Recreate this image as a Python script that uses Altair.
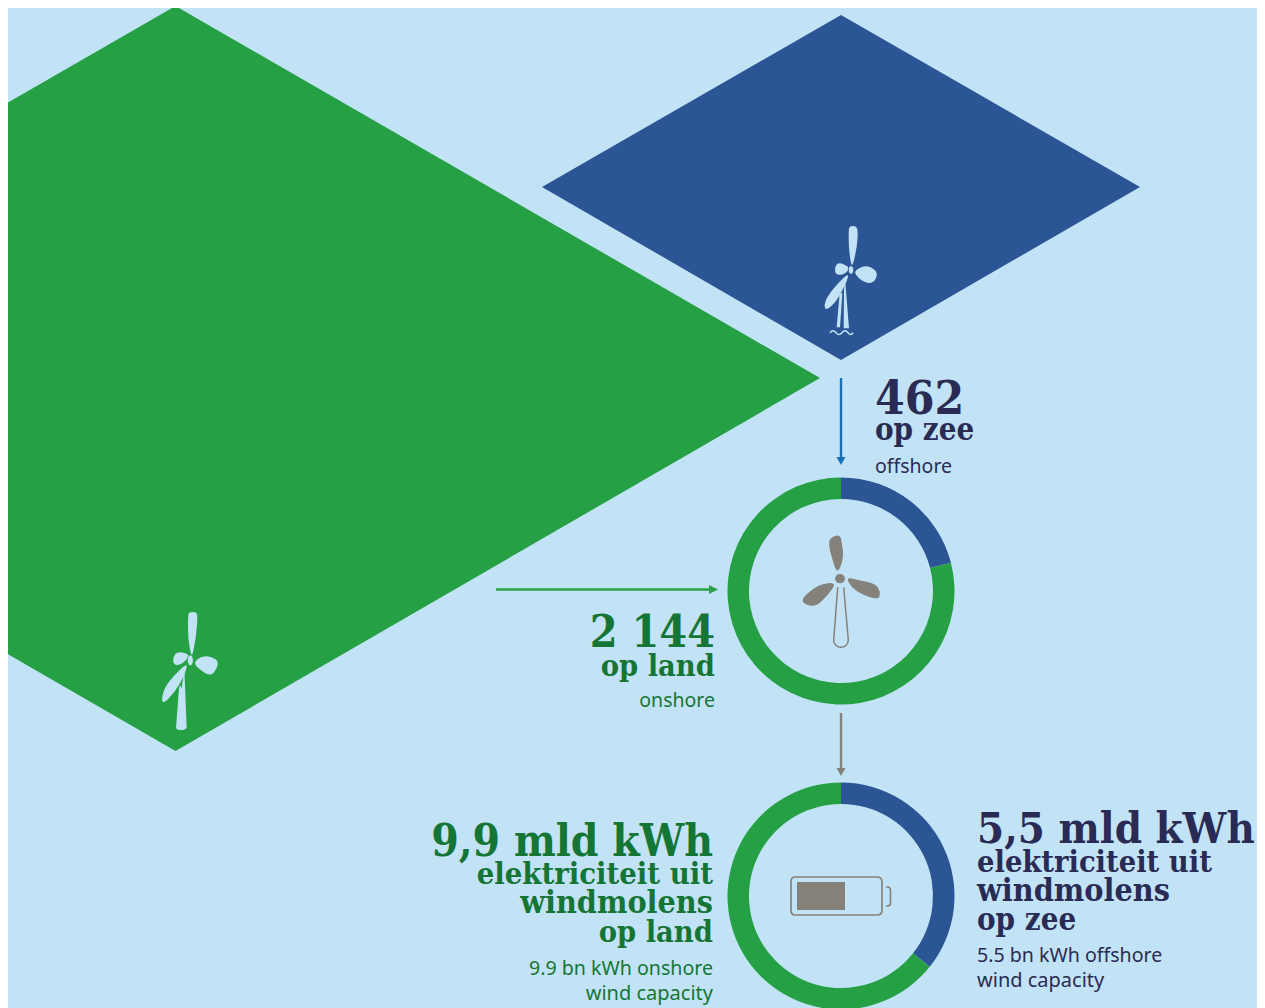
import altair as alt
import pandas as pd

# ---- values
DONUT_TOP = [21, 79]        # offshore / onshore share as drawn
DONUT_BOTTOM = [5.5, 9.9]   # bn kWh offshore / onshore

LABEL_OFF = ["462", "op zee", "offshore"]
LABEL_ON = ["2 144", "op land", "onshore"]
LABEL_KWH_ON = ["9,9 mld kWh", "elektriciteit uit", "windmolens", "op land", "9.9 bn kWh onshore", "wind capacity"]
LABEL_KWH_OFF = ["5,5 mld kWh", "elektriciteit uit", "windmolens", "op zee", "5.5 bn kWh offshore", "wind capacity"]

# ---- palette
BG = "#c2e3f6"
GREEN = "#25a044"
BLUE = "#2b5594"
NAVY = "#2a2b55"
DGREEN = "#157534"
GREY = "#85827b"
ARROW_BLUE = "#1a6fb0"
ARROW_GREEN = "#2ba14a"
HEAD = "DejaVu Serif Condensed"
BODY = "Noto Sans"

X = lambda f="x": alt.X(f"{f}:Q", scale=alt.Scale(domain=[8, 1257], nice=False, zero=False), axis=None)
Y = lambda f="y": alt.Y(f"{f}:Q", scale=alt.Scale(domain=[1008, 8], nice=False, zero=False), axis=None)


def smooth(pts, k=3):
    p = [(a / k, b / k) for a, b in pts]
    n = len(p)
    mid = lambda a, b: ((a[0] + b[0]) / 2, (a[1] + b[1]) / 2)
    s = mid(p[-1], p[0])
    out = f"M{s[0]:.2f},{s[1]:.2f}"
    for i in range(n):
        m = mid(p[i], p[(i + 1) % n])
        out += f"Q{p[i][0]:.2f},{p[i][1]:.2f},{m[0]:.2f},{m[1]:.2f}"
    return out + "Z"


def straight(pts, k=3, close=True):
    p = [(a / k, b / k) for a, b in pts]
    return "M" + "L".join(f"{a:.2f},{b:.2f}" for a, b in p) + ("Z" if close else "")


def ellipse(cx, cy, rx, ry, k=3):
    cx, cy, rx, ry = cx / k, cy / k, rx / k, ry / k
    return (f"M{cx:.2f},{cy - ry:.2f}A{rx:.2f},{ry:.2f},0,1,1,{cx:.2f},{cy + ry:.2f}"
            f"A{rx:.2f},{ry:.2f},0,1,1,{cx:.2f},{cy - ry:.2f}Z")


def icon(path, ox, oy, color, filled=True, sw=0, stroke=None):
    d = pd.DataFrame({"x": [ox], "y": [oy]})
    if filled:
        kw = {"stroke": stroke} if stroke else {}
        m = alt.Chart(d).mark_point(shape=path, size=4, filled=True, fill=color, opacity=1, strokeWidth=sw, **kw)
    else:
        m = alt.Chart(d).mark_point(shape=path, size=4, filled=False, color=color, opacity=1, strokeWidth=sw)
    return m.encode(x=X(), y=Y())


def diamond(xl, xc, xr, ym, top, bottom, color):
    d = pd.DataFrame({"x": [xl, xc, xr], "y": [ym, top, ym], "y2": [ym, bottom, ym]})
    return alt.Chart(d).mark_area(color=color, opacity=1, clip=True, interpolate="linear").encode(
        x=X(), y=Y(), y2=alt.Y2("y2:Q"))


def donut(vals, cx, cy):
    total = sum(vals)
    f = vals[0] / total
    d = pd.DataFrame({"x": [cx, cx], "y": [cy, cy], "a": [0, f], "b": [f, 1],
                      "c": [BLUE, GREEN]})
    return alt.Chart(d).mark_arc(radius=113.5, radius2=92).encode(
        x=X(), y=Y(),
        theta=alt.Theta("a:Q", scale=alt.Scale(domain=[0, 1], range=[0, 6.283185]), stack=None),
        theta2=alt.Theta2("b:Q"),
        color=alt.Color("c:N", scale=None))


def arrow(x1, y1, x2, y2, color):
    d = pd.DataFrame({"x": [x1], "y": [y1], "x2": [x2], "y2": [y2]})
    return alt.Chart(d).mark_rule(color=color, strokeWidth=2.4).encode(
        x=X(), y=Y(), x2="x2:Q", y2="y2:Q")


def texts(labels, xs, baselines, sizes, color, align, fonts, weights):
    out = []
    for t, x, y, s, f, w in zip(labels, xs, baselines, sizes, fonts, weights):
        d = pd.DataFrame({"x": [x], "y": [y], "t": [t]})
        out.append(alt.Chart(d).mark_text(align=align, baseline="alphabetic", fontSize=s, font=f,
                                          fontWeight=w, color=color).encode(x=X(), y=Y(), text="t:N"))
    return out


layers = [
    diamond(-470, 175.5, 820, 378, 6, 751, GREEN),
    diamond(542, 841, 1140, 187, 15, 360, BLUE),
]

# offshore turbine
o = (780, 210)
for pts in [
    [(213, 165), (206, 110), (206, 60), (209, 48), (228, 48), (234, 62), (231, 110), (219, 165)],
    [(220, 184), (250, 168), (272, 170), (294, 188), (284, 216), (262, 221), (238, 207)],
    [(207, 170), (174, 156), (163, 175), (168, 194), (187, 195), (205, 183)],
    [(204, 191), (175, 218), (143, 258), (132, 285), (138, 302), (167, 277), (187, 242), (204, 205)],
]:
    layers.append(icon(smooth(pts), *o, BG))
layers.append(icon(straight([(195, 205), (207, 355), (191, 355), (192, 240)]), *o, BG))
layers.append(icon(straight([(179, 250), (187, 250), (180, 352), (170, 352)]), *o, BG))
layers.append(icon(ellipse(213, 180, 8, 13), *o, BG, True, 0.8, BLUE))
layers.append(icon("M50,122.7Q53,119,56,122.7T62,122.7T68,122.7T73,122.7", *o, BG, False, 1.5))

# onshore turbine
o = (130, 600)
for pts in [
    [(183, 165), (174, 115), (174, 48), (177, 36), (199, 36), (203, 50), (198, 110), (188, 165)],
    [(190, 188), (215, 168), (245, 170), (268, 186), (252, 220), (235, 226), (208, 208)],
    [(178, 163), (143, 154), (128, 172), (131, 194), (150, 196), (172, 178)],
    [(170, 191), (135, 223), (103, 263), (94, 303), (104, 309), (137, 272), (160, 232), (170, 205)],
]:
    layers.append(icon(smooth(pts), *o, BG))
layers.append(icon(straight([(163, 205), (170, 385), (160, 390), (145, 390), (138, 385), (147, 265),
                             (150, 255), (155, 265)]), *o, BG))
layers.append(icon(ellipse(181, 181, 9, 16), *o, BG, True, 0.8, GREEN))

layers += [donut(DONUT_TOP, 841, 591), donut(DONUT_BOTTOM, 841, 896)]

# grey turbine
o = (720, 470)
for pts in [
    [(352, 314), (335, 262), (326, 225), (330, 203), (360, 193), (366, 220), (371, 265)],
    [(378, 321), (420, 331), (466, 341), (482, 365), (476, 390), (425, 374), (393, 351)],
    [(350, 338), (310, 340), (278, 356), (242, 390), (260, 406), (289, 409), (322, 377)],
]:
    layers.append(icon(smooth(pts), *o, GREY))
layers.append(icon(ellipse(360, 326, 14, 14), *o, GREY))
layers.append(icon("M117.7,117.3L113.7,170A7.3,7.3,0,0,0,128.3,170L123.7,117.3", *o, GREY, False, 1.5))

# battery
o = (720, 770)
layers.append(icon("M75,107L157,107Q162,107,162,112L162,140Q162,145,157,145L75,145Q71,145,71,140L71,112Q71,107,75,107Z",
                   *o, GREY, False, 1.7))
layers.append(icon(straight([(231, 336), (375, 336), (375, 420), (231, 420)]), *o, GREY))
layers.append(icon("M166,117L168,117Q170.5,117.5,170.5,120.5L170.5,132.5Q170.5,135.5,168,136L166,136", *o, GREY, False, 1.7))

# arrows
layers += [
    arrow(841, 378, 841, 458, ARROW_BLUE),
    icon("M-4.5,-8L4.5,-8L0,0Z", 841, 465, ARROW_BLUE),
    arrow(496, 589.5, 709, 589.5, ARROW_GREEN),
    icon("M-9,-4.5L0,0L-9,4.5Z", 718, 589.5, ARROW_GREEN),
    arrow(841, 713, 841, 769, GREY),
    icon("M-4.5,-8L4.5,-8L0,0Z", 841, 776, GREY),
]

# labels
layers += texts(LABEL_OFF, [875] * 3, [414, 440, 473], [47.5, 31, 19.5], NAVY, "left",
                [HEAD, HEAD, BODY], ["bold", "bold", "normal"])
layers += texts(LABEL_ON, [715] * 3, [647, 676, 707], [44.5, 30.5, 19.5], DGREEN, "right",
                [HEAD, HEAD, BODY], ["bold", "bold", "normal"])
layers += texts(LABEL_KWH_ON, [713] * 6, [856, 884, 913, 942, 975, 1000], [44, 30.7, 32, 30.5, 19.6, 20], DGREEN, "right",
                [HEAD] * 4 + [BODY] * 2, ["bold"] * 4 + ["normal"] * 2)
layers += texts(LABEL_KWH_OFF, [977] * 6, [843, 872, 901, 930, 962, 987], [43.4, 30.5, 32, 31, 19.6, 20], NAVY, "left",
                [HEAD] * 4 + [BODY] * 2, ["bold"] * 4 + ["normal"] * 2)

chart = alt.layer(*layers).properties(
    width=1249, height=1000, background=BG, padding=0,
    autosize=alt.AutoSizeParams(type="none")
).configure_view(stroke=None)

chart.save("out.html", embed_options={"renderer": "svg", "actions": False})
